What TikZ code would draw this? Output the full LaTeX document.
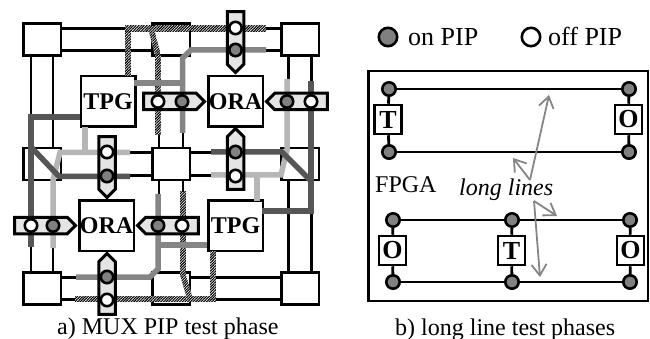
\documentclass[tikz,border=0pt]{standalone}
\usepackage{fontspec}
\setmainfont{Liberation Serif}
\usetikzlibrary{arrows.meta,calc,shapes.symbols,patterns.meta}
\definecolor{cDark}{HTML}{565656}
\definecolor{cMid}{HTML}{858585}
\definecolor{cLight}{HTML}{B6B6B6}
\definecolor{cOn}{HTML}{808080}
\definecolor{cStrip}{HTML}{E4E4E4}
\tikzset{
  >={Straight Barb[length=11pt,width=15pt]},
  sbox/.style={draw, line width=2.5pt, fill=white, minimum width=37.5pt, minimum height=32pt, inner sep=0pt},
  lblock/.style={draw, line width=2.5pt, fill=white, minimum width=54.5pt, minimum height=50.5pt, inner sep=0pt,
                 font=\fontsize{24}{24}\selectfont\bfseries},
  tbox/.style={draw, line width=2.5pt, fill=white, minimum width=27pt, minimum height=29pt, inner sep=0pt,
               font=\fontsize{26}{26}\selectfont\bfseries},
  wire/.style={line width=2.8pt},
  wireDark/.style={draw=cDark, line width=5.5pt},
  wireMid/.style={draw=cMid, line width=5.5pt},
  wireLight/.style={draw=cLight, line width=5.5pt},
  hatchfill/.style={preaction={fill=white}, pattern={Lines[angle=45,distance=1.9pt,line width=1.1pt]}},
  pipH/.style={signal, signal from=nowhere, draw, line width=3pt, fill=cStrip, inner sep=0pt,
               minimum width=61pt, minimum height=16.5pt},
  pipV/.style={signal, signal from=nowhere, draw, line width=3pt, fill=cStrip, inner sep=0pt,
               minimum width=16.5pt, minimum height=52.75pt},
  onpip/.style={circle, draw, line width=2.6pt, fill=cOn, minimum size=12.4pt, inner sep=0pt},
  offpip/.style={circle, draw, line width=2.6pt, fill=white, minimum size=12.4pt, inner sep=0pt},
  lineon/.style={onpip, minimum size=13.4pt},
  grayarr/.style={->, draw=cMid, line width=1.8pt},
  lbl/.style={font=\fontsize{24}{24}\selectfont, inner sep=0pt, anchor=base west},
}
\newcommand{\hatchwire}[2]{\path[hatchfill] ($(#1)!2.8pt!90:(#2)$) -- ($(#1)!2.8pt!-90:(#2)$)
  -- ($(#2)!2.8pt!90:(#1)$) -- ($(#2)!2.8pt!-90:(#1)$) -- cycle;}
\begin{document}
\begin{tikzpicture}[x=1pt,y=-1pt]
  \useasboundingbox (0,0) rectangle (650,339);
  \node[sbox] (sbTL) at (42,39.5) {};
  \node[sbox] (sbTM) at (171,39.5) {};
  \node[sbox] (sbTR) at (300,39.5) {};
  \node[sbox] (sbML) at (42,164) {};
  \node[sbox] (sbMM) at (171,164) {};
  \node[sbox] (sbMR) at (300,164) {};
  \node[sbox] (sbBL) at (42,288.5) {};
  \node[sbox] (sbBM) at (171,288.5) {};
  \node[sbox] (sbBR) at (300,288.5) {};
  \foreach \a/\b/\d in {sbTL/sbTM/11, sbTM/sbTR/11, sbML/sbMM/11.5, sbMM/sbMR/11.5, sbBL/sbBM/11, sbBM/sbBR/11} {
    \draw[wire] ([yshift=\d]\a.east) -- ([yshift=\d]\b.west);
    \draw[wire] ([yshift=-\d]\a.east) -- ([yshift=-\d]\b.west);
  }
  \foreach \a/\b/\d in {sbTL/sbML/11, sbML/sbBL/11, sbTM/sbMM/12, sbMM/sbBM/12, sbTR/sbMR/11.5, sbMR/sbBR/11.5} {
    \draw[wire] ([xshift=-\d]\a.south) -- ([xshift=-\d]\b.north);
    \draw[wire] ([xshift=\d]\a.south) -- ([xshift=\d]\b.north);
  }
  \node[lblock] (tpgA) at (108,101.5) {TPG};
  \node[lblock] (oraA) at (235.5,101.5) {ORA};
  \node[lblock] (oraB) at (106.5,225.5) {ORA};
  \node[lblock] (tpgB) at (235.5,225.5) {TPG};

  \coordinate (hA) at (128,76);
  \coordinate (hB) at (128,28.5);
  \coordinate (hC) at (125,28.5);
  \coordinate (hD) at (266,28.5);
  \coordinate (hE) at (151,28.5);
  \coordinate (hF) at (158,55);
  \coordinate (hG) at (158,135);
  \coordinate (hH) at (183,192);
  \coordinate (hI) at (183,275);
  \coordinate (hJ) at (190,299);
  \coordinate (hK) at (75,299);
  \coordinate (hL) at (216,299);
  \coordinate (hM) at (213,251);
  \coordinate (hN) at (213,299);
  \foreach \a/\b in {hA/hB, hC/hD, hE/hF, hF/hG, hH/hI, hI/hJ, hK/hL, hM/hN} {
    \hatchwire{\a}{\b}
  }

  \coordinate (mA) at (266,50);
  \coordinate (mB) at (191,50);
  \coordinate (mC) at (182.5,58);
  \coordinate (mD) at (182.5,133);
  \coordinate (mE) at (134,83);
  \coordinate (mF) at (76,277);
  \coordinate (mG) at (150,277);
  \coordinate (mH) at (158,269);
  \coordinate (mI) at (158,194);
  \coordinate (mJ) at (158,245);
  \coordinate (mK) at (207,245);
  \draw[wireMid] (mA) -- (mB) -- (mC) -- (mD);
  \draw[wireMid] (mE) -- (mE -| mD);
  \draw[wireMid] (mF) -- (mG) -- (mH) -- (mI);
  \draw[wireMid] (mJ) -- (mK);

  \coordinate (lA) at (85,127);
  \coordinate (lB) at (85,152.5);
  \coordinate (lC) at (130,152.5);
  \coordinate (lD) at (60,152.5);
  \coordinate (lE) at (53,180);
  \coordinate (lF) at (53,248);
  \coordinate (lG) at (287,79);
  \coordinate (lH) at (287,150);
  \coordinate (lI) at (281,175);
  \coordinate (lJ) at (211,175);
  \coordinate (lK) at (257,175);
  \coordinate (lL) at (257,201);
  \draw[wireLight] (lA) -- (lB);
  \draw[wireLight] (lC) -- (lD) -- (lE) -- (lF);
  \draw[wireLight] (lG) -- (lH) -- (lI) -- (lJ);
  \draw[wireLight] (lK) -- (lL);

  \coordinate (dA) at (28,117);
  \coordinate (dB) at (80,117);
  \coordinate (dC) at (31,117);
  \coordinate (dD) at (31,247);
  \coordinate (dE) at (31,147);
  \coordinate (dF) at (59,176.5);
  \coordinate (dG) at (130,176.5);
  \coordinate (dH) at (311,81);
  \coordinate (dI) at (311,213);
  \coordinate (dJ) at (262,211);
  \coordinate (dK) at (313.5,211);
  \coordinate (dL) at (211,152);
  \coordinate (dM) at (282,152);
  \coordinate (dN) at (311,181);
  \draw[wireDark] (dA) -- (dB);
  \draw[wireDark] (dC) -- (dD);
  \draw[wireDark] (dE) -- (dF) -- (dG);
  \draw[wireDark] (dH) -- (dI);
  \draw[wireDark] (dJ) -- (dK);
  \draw[wireDark] (dL) -- (dM) -- (dN);

  \node[pipH, signal to=east] (stripA) at (169.9,101.5) {};
  \node[pipH, signal to=west] (stripB) at (301.1,101.5) {};
  \node[pipH, signal to=east] (stripC) at (40.9,225.5) {};
  \node[pipH, signal to=west] (stripD) at (172.1,225.5) {};
  \node[pipV, signal to=south] (stripE) at (235.5,37.9) {};
  \node[pipV, signal to=north] (stripF) at (235.5,163.1) {};
  \node[pipV, signal to=south] (stripG) at (107,162.9) {};
  \node[pipV, signal to=north] (stripH) at (107,288.1) {};
  \foreach \x/\y [count=\i] in {182/101.5, 287/101.5, 53/225.5, 158/225.5, 235.5/50, 235.5/152, 107/176, 107/277} {
    \node[onpip] (on\i) at (\x,\y) {};
  }
  \foreach \x/\y [count=\i] in {158/101.5, 311/101.5, 31/225.5, 182/225.5, 235.5/28, 235.5/176, 107/152, 107/300} {
    \node[offpip] (off\i) at (\x,\y) {};
  }

  \node[onpip, minimum size=18.4pt] (legOn) at (388,37) {};
  \node[lbl, font=\fontsize{26}{26}\selectfont] (txtOn) at (408,46) {on PIP};
  \node[offpip, minimum size=18.4pt] (legOff) at (531,37) {};
  \node[lbl, font=\fontsize{26}{26}\selectfont] (txtOff) at (548,46) {off PIP};

  \node[draw, line width=2.5pt, minimum width=279.5pt, minimum height=229.5pt, inner sep=0pt] (fpga) at (508,186) {};
  \node[tbox] (tA) at (388,119.5) {T};
  \node[tbox] (oA) at (628.5,119.5) {O};
  \node[tbox] (oB) at (392.5,250.5) {O};
  \node[tbox] (tB) at (511.5,250.5) {T};
  \node[tbox] (oC) at (630.5,250.5) {O};
  \node[lineon] (p1) at (389,89) {};
  \node[lineon] (p2) at (629,89) {};
  \node[lineon] (p3) at (389,152) {};
  \node[lineon] (p4) at (629,152) {};
  \node[lineon] (p5) at (393,220) {};
  \node[lineon] (p6) at (512,220) {};
  \node[lineon] (p7) at (630,220) {};
  \node[lineon] (p8) at (393,282) {};
  \node[lineon] (p9) at (512,282) {};
  \node[lineon] (p10) at (630,282) {};
  \draw[wire] (p1) -- (p2);
  \draw[wire] (p3) -- (p4);
  \draw[wire] (p5) -- (p6);
  \draw[wire] (p6) -- (p7);
  \draw[wire] (p8) -- (p9);
  \draw[wire] (p9) -- (p10);
  \draw[wire] (p1) -- (tA);
  \draw[wire] (tA) -- (p3);
  \draw[wire] (p2) -- (oA);
  \draw[wire] (oA) -- (p4);
  \draw[wire] (p5) -- (oB);
  \draw[wire] (oB) -- (p8);
  \draw[wire] (p6) -- (tB);
  \draw[wire] (tB) -- (p9);
  \draw[wire] (p7) -- (oC);
  \draw[wire] (oC) -- (p10);

  \node[lbl] (txtFpga) at (375,193) {FPGA};
  \node[lbl, font=\fontsize{24}{24}\selectfont\itshape] (txtLong) at (459,196) {long lines};
  \coordinate (aA) at (530,180);
  \coordinate (aB) at (534,201);
  \coordinate (aC) at (549,95);
  \coordinate (aD) at (513,158);
  \coordinate (aE) at (557,216);
  \coordinate (aF) at (540,277);
  \draw[grayarr] (aA) -- (aC);
  \draw[grayarr] (aA) -- (aD);
  \draw[grayarr] (aB) -- (aE);
  \draw[grayarr] (aB) -- (aF);

  \node[lbl] (capA) at (57,334) {a) MUX PIP test phase};
  \node[lbl] (capB) at (395,335) {b) long line test phases};
\end{tikzpicture}
\end{document}
